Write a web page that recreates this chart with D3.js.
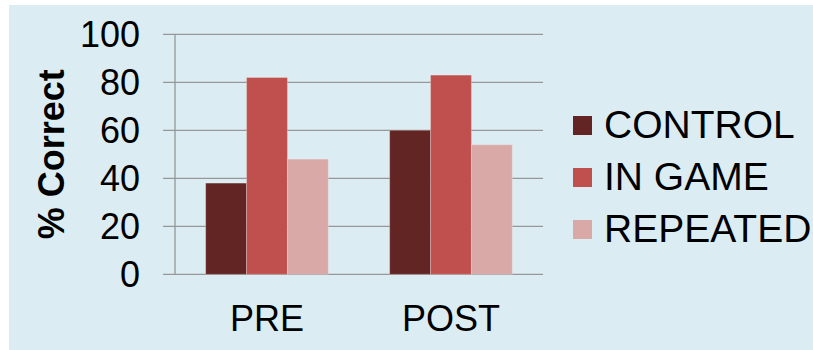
<!DOCTYPE html>
<html>
<head>
<meta charset="utf-8">
<script src="https://cdn.jsdelivr.net/npm/d3@7"></script>
<style>
  body { margin: 0; background: #ffffff; }
  svg text { font-family: "Liberation Sans", Arial, sans-serif; fill: #000; }
</style>
</head>
<body>
<div id="chart"></div>
<script>
const categories = ['PRE', 'POST'];
const seriesNames = ['CONTROL', 'IN GAME', 'REPEATED'];
const control = [38, 60];
const inGame = [82, 83];
const repeated = [48, 54];
const yTicks = [0, 20, 40, 60, 80, 100];
const colors = ['#632523', '#C0504D', '#D9A9A8'];

const seriesValues = [control, inGame, repeated];

let svg,
    width = 813,
    height = 350,
    plot = { left: 175, right: 543, top: 34.3, bottom: 274.3 },
    x,
    xInner,
    y;

svg = d3.select('#chart')
    .append('svg')
        .attr('width', width)
        .attr('height', height);

// panel background
svg.append('rect')
    .attr('x', 9)
    .attr('y', 5)
    .attr('width', width - 9)
    .attr('height', height - 5)
    .attr('fill', '#DBEDF3');

x = d3.scaleBand()
    .domain(categories)
    .range([plot.left, plot.right])
    .paddingInner(0)
    .paddingOuter(0);

// gap of about 150% of a bar between groups
xInner = d3.scaleBand()
    .domain(seriesNames)
    .range([0, x.bandwidth()])
    .paddingInner(0)
    .paddingOuter(0.75);

y = d3.scaleLinear()
    .domain([0, 100])
    .range([plot.bottom, plot.top]);

// gridlines
svg.append('g')
    .selectAll('line')
    .data(yTicks)
    .enter()
    .append('line')
        .attr('x1', plot.left - 12)
        .attr('x2', plot.right)
        .attr('y1', d => y(d))
        .attr('y2', d => y(d))
        .attr('stroke', '#979797')
        .attr('stroke-width', 1.3);

// y axis line
svg.append('line')
    .attr('x1', plot.left)
    .attr('x2', plot.left)
    .attr('y1', plot.top)
    .attr('y2', plot.bottom)
    .attr('stroke', '#979797')
    .attr('stroke-width', 1.3);

// bars
const barData = [];
seriesNames.forEach((s, si) => {
    categories.forEach((c, ci) => {
        barData.push({ series: s, cat: c, value: seriesValues[si][ci], color: colors[si] });
    });
});

svg.append('g')
    .selectAll('rect')
    .data(barData)
    .enter()
    .append('rect')
        .attr('x', d => x(d.cat) + xInner(d.series))
        .attr('y', d => y(d.value))
        .attr('width', xInner.bandwidth())
        .attr('height', d => y(0) - y(d.value))
        .attr('fill', d => d.color)
        .attr('stroke', 'rgba(255,255,255,0.25)')
        .attr('stroke-width', 1);

// y tick labels
svg.append('g')
    .selectAll('text')
    .data(yTicks)
    .enter()
    .append('text')
        .text(d => d)
        .attr('x', 140)
        .attr('y', d => y(d))
        .attr('dy', '0.35em')
        .attr('text-anchor', 'end')
        .style('font-size', '36px');

// x labels
svg.append('g')
    .selectAll('text')
    .data(categories)
    .enter()
    .append('text')
        .text(d => d)
        .attr('x', d => x(d) + x.bandwidth() / 2)
        .attr('y', 331)
        .attr('text-anchor', 'middle')
        .style('font-size', '36px');

// y axis title
svg.append('text')
    .text('% Correct')
    .attr('transform', 'translate(64,' + ((plot.top + plot.bottom) / 2) + ') rotate(-90)')
    .attr('text-anchor', 'middle')
    .style('font-size', '36px')
    .style('font-weight', 'bold');

// legend
const legend = svg.append('g')
    .selectAll('g')
    .data(seriesNames)
    .enter()
    .append('g')
        .attr('transform', (d, i) => 'translate(573,' + (125.5 + i * 52) + ')');

legend.append('rect')
    .attr('x', 0)
    .attr('y', -9.5)
    .attr('width', 19)
    .attr('height', 19)
    .attr('fill', (d, i) => colors[i]);

legend.append('text')
    .text(d => d)
    .attr('x', 31)
    .attr('y', -1.5)
    .attr('dy', '0.35em')
    .style('font-size', '39px');
</script>
</body>
</html>
